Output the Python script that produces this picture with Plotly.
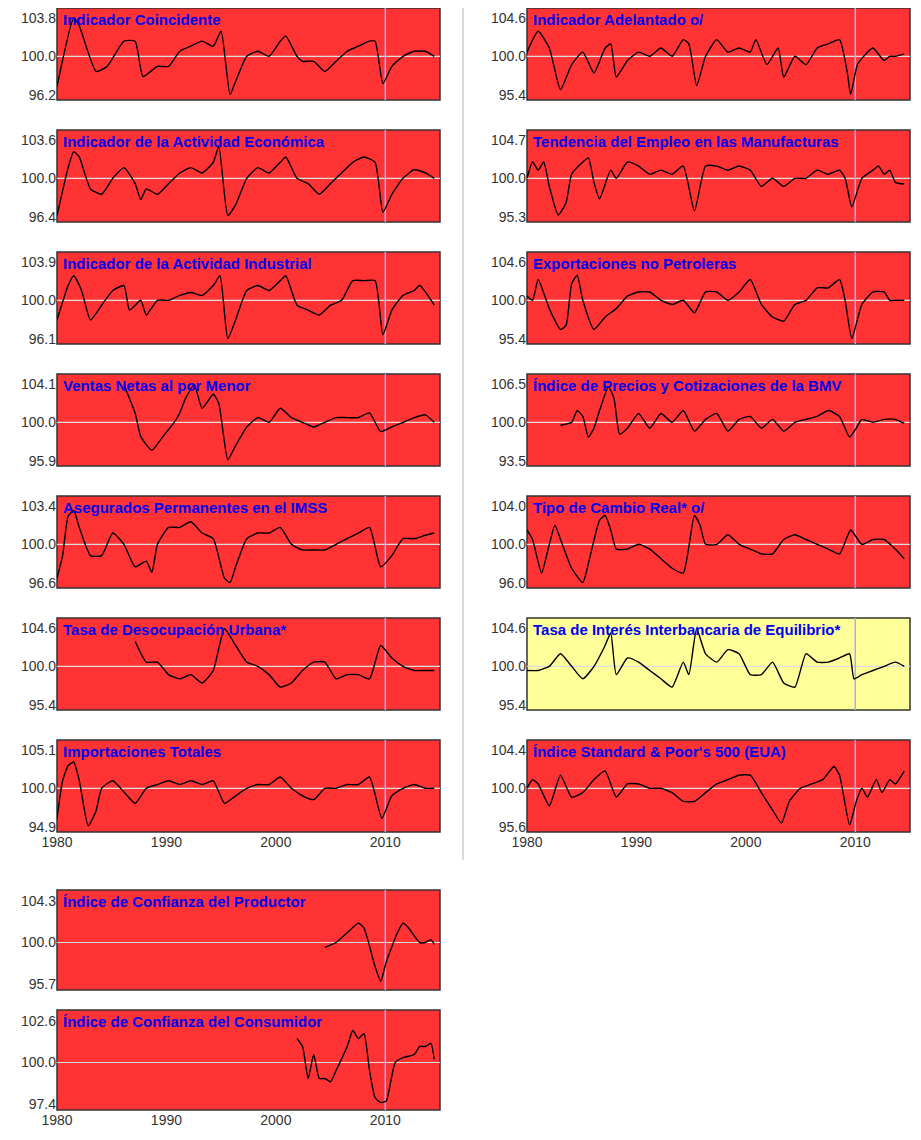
import plotly.graph_objects as go

W, H = 921, 1140
OFF = 8  # browser body margin
XSTRETCH = 1.02  # my year readings came out slightly compressed against the reference axis

# ---- data ----
coinc_x = [1980, 1981.5, 1982, 1983.5, 1984.5, 1986, 1987, 1987.7, 1989, 1990, 1991, 1992, 1993, 1994, 1994.7, 1995.5, 1996, 1997, 1998, 1999, 2000, 2000.5, 2001.5, 2002, 2003, 2004, 2005, 2006, 2007, 2008, 2008.5, 2009.2, 2010, 2011, 2012, 2013, 2013.8]
coinc_y = [97, 103.8, 103, 98.5, 99, 101.5, 101.5, 98, 99, 99, 100.5, 101, 101.5, 101, 102.5, 96.2, 97.5, 100, 100.5, 100, 101.5, 102, 100, 99.5, 99.5, 98.5, 99.5, 100.5, 101, 101.5, 101.5, 97.3, 99, 100, 100.5, 100.5, 100]

adel_x = [1980, 1981, 1982, 1983, 1984, 1985, 1986, 1987, 1987.5, 1988, 1989, 1990, 1991, 1992, 1993, 1994, 1994.5, 1995.2, 1996, 1997, 1998, 1999, 2000, 2000.5, 2001.5, 2002.5, 2003, 2004, 2005, 2006, 2007, 2008, 2008.7, 2009.0, 2009.6, 2010.5, 2011, 2012, 2012.5, 2013, 2013.8]
adel_y = [100.5, 103, 101, 96, 99, 100.5, 98, 101, 101.5, 97.5, 99.5, 100.5, 100, 101, 100, 102, 101.5, 96.5, 100, 102, 100.5, 101, 100.5, 102, 99, 101, 97.5, 100, 99, 101, 101.5, 102, 98, 95.4, 99, 100.5, 101, 99.5, 100, 100, 100.3]

igae_x = [1980, 1981, 1981.5, 1982, 1983, 1984, 1985, 1986, 1987, 1987.5, 1988, 1989, 1990, 1991, 1992, 1993, 1994, 1994.5, 1995.3, 1996, 1997, 1998, 1999, 2000, 2000.5, 2001.5, 2002.5, 2003.5, 2004.5, 2005.5, 2006.5, 2007.5, 2008.5, 2009.2, 2010, 2011, 2012, 2013, 2013.8]
igae_y = [96.5, 101, 102.5, 102, 99, 98.5, 100, 101, 99.5, 98, 99, 98.5, 99.5, 100.5, 101, 100.5, 101.5, 103, 96.5, 97.5, 100, 101, 100.5, 101.5, 102, 100, 99.5, 98.5, 99.5, 100.5, 101.5, 102, 101.5, 96.8, 98.5, 100, 100.8, 100.5, 100]

empleo_x = [1980, 1980.5, 1981, 1981.5, 1982, 1982.8, 1983.5, 1984, 1985, 1985.5, 1986, 1986.5, 1987.5, 1988, 1989, 1990, 1991, 1992, 1993, 1994, 1995, 1996, 1997, 1998, 1999, 2000, 2001, 2002, 2003, 2004, 2005, 2006, 2007, 2008, 2008.5, 2009.1, 2010, 2011, 2011.5, 2012, 2012.5, 2013, 2013.8]
empleo_y = [100, 102, 101, 102, 99, 95.5, 97, 100.5, 102, 102.5, 99.5, 97.5, 101, 100, 102, 101.5, 100.5, 101, 100.5, 101.5, 96, 101.5, 101.5, 101, 101.5, 101, 99, 100, 99, 100, 100, 101, 100.5, 101, 100, 96.5, 100, 101, 101.5, 100.5, 101, 99.5, 99.3]

indus_x = [1980, 1981, 1981.5, 1982.2, 1983, 1984, 1985, 1986, 1986.5, 1987.5, 1988, 1989, 1990, 1991, 1992, 1993, 1994, 1994.6, 1995.3, 1996, 1997, 1998, 1999, 2000, 2000.5, 2001.5, 2002.5, 2003.5, 2004.5, 2005.5, 2006.5, 2007.5, 2008.5, 2009.2, 2010, 2011, 2012, 2012.5, 2013.8]
indus_y = [98, 101.5, 102.5, 101, 98, 99.5, 101, 101.5, 99, 100, 98.5, 100, 100, 100.5, 100.8, 100.5, 101.5, 102.5, 96.1, 98, 101, 101.5, 101, 102, 102.5, 99.5, 99, 98.5, 99.5, 100, 102, 102, 102, 96.5, 99, 100.5, 101, 101.5, 99.5]

export_x = [1980, 1980.5, 1981, 1982, 1983, 1983.5, 1984, 1984.5, 1985, 1986, 1987, 1988, 1989, 1990, 1991, 1992, 1993, 1994, 1995, 1996, 1997, 1998, 1999, 2000, 2001, 2002, 2003, 2004, 2005, 2006, 2007, 2008, 2008.5, 2009.1, 2010, 2011, 2012, 2012.5, 2013, 2013.8]
export_y = [100.5, 100, 102.5, 99, 96.5, 97, 102, 103, 100, 96.5, 98, 99, 100.5, 101, 101, 100, 99.5, 100, 98.5, 101, 101, 100, 101, 102.5, 99.5, 98, 97.5, 99.5, 100, 101.5, 101.5, 102.5, 100, 95.4, 99.5, 101, 101, 100, 100, 100]

ventas_x = [1986, 1987, 1987.5, 1988.5, 1989.5, 1990.5, 1991, 1991.5, 1992.3, 1993, 1994, 1994.5, 1995.3, 1996, 1997, 1998, 1999, 2000, 2001, 2002, 2003, 2004, 2005, 2006, 2007, 2008, 2009, 2010, 2011, 2012, 2013, 2013.8]
ventas_y = [104, 101, 98.5, 97, 98.5, 100, 101, 102.5, 104, 101.5, 103, 102, 96, 97.5, 99.5, 100.5, 100, 101.5, 100.5, 100, 99.5, 100, 100.5, 100.5, 100.5, 101, 99, 99.5, 100, 100.5, 100.8, 100]

bmv_x = [1983, 1984, 1984.5, 1985, 1985.5, 1986, 1986.5, 1987.3, 1987.8, 1988.3, 1989, 1990, 1991, 1992, 1993, 1994, 1995, 1996, 1997, 1998, 1999, 2000, 2001, 2002, 2003, 2004, 2005, 2006, 2007, 2008, 2008.9, 2009.5, 2010, 2011, 2012, 2013, 2013.8]
bmv_y = [99.5, 100, 102, 101, 97.5, 99, 102, 106, 104, 98, 99, 101.5, 99, 101.5, 100, 102, 98.5, 100.5, 101.5, 98.5, 100.5, 101, 99, 100.5, 98.5, 100, 100.5, 101, 102, 101, 97.5, 99, 100.5, 100, 100.5, 100.5, 99.8]

imss_x = [1980, 1980.5, 1981, 1981.5, 1982, 1983, 1984, 1985, 1986, 1987, 1988, 1988.5, 1989, 1990, 1991, 1992, 1993, 1994, 1995, 1995.5, 1996, 1997, 1998, 1999, 2000, 2001, 2002, 2003, 2004, 2005, 2006, 2007, 2008, 2009, 2010, 2011, 2012, 2013, 2013.8]
imss_y = [97, 99, 102.5, 103, 101.5, 99, 99, 101, 100, 98, 98.5, 97.5, 100, 101.5, 101.5, 102, 101, 100.5, 97, 96.6, 98, 100.5, 101, 101, 101.5, 100, 99.5, 99.5, 99.5, 100, 100.5, 101, 101.5, 98, 99, 100.5, 100.5, 100.8, 101]

cambio_x = [1980, 1980.5, 1981.3, 1982, 1982.5, 1983, 1984, 1985, 1985.5, 1986.5, 1987, 1987.5, 1988, 1989, 1990, 1991, 1992, 1993, 1994, 1995, 1995.5, 1996, 1997, 1998, 1999, 2000, 2001, 2002, 2003, 2004, 2005, 2006, 2007, 2008, 2009, 2010, 2011, 2012, 2013, 2013.8]
cambio_y = [101.5, 100.5, 97, 100, 102, 100.5, 97.5, 96, 98, 102.5, 103, 101.5, 99.5, 99.5, 100, 99.5, 98.5, 97.5, 97, 103, 102, 100, 100, 101, 100, 99.5, 99, 99, 100.5, 101, 100.5, 100, 99.5, 99, 101.5, 100, 100.5, 100.5, 99.5, 98.5]

desoc_x = [1987, 1988, 1989, 1990, 1991, 1992, 1993, 1994, 1995, 1996, 1997, 1998, 1999, 2000, 2001, 2002, 2003, 2004, 2005, 2006, 2007, 2008, 2009, 2010, 2011, 2012, 2013, 2013.8]
desoc_y = [103, 100.5, 100.5, 99, 98.5, 99, 98, 99.5, 104.5, 102.5, 100.5, 100, 99, 97.5, 98, 99.5, 100.5, 100.5, 98.5, 99, 99, 98.5, 102.5, 101, 100, 99.5, 99.5, 99.5]

tiie_x = [1980, 1981, 1982, 1983, 1984, 1985, 1986, 1987, 1987.5, 1988, 1989, 1990, 1991, 1992, 1993, 1994, 1994.5, 1995.2, 1996, 1997, 1998, 1999, 2000, 2001, 2002, 2003, 2004, 2005, 2006, 2007, 2008, 2008.9, 2009.3, 2010, 2011, 2012, 2013, 2013.8]
tiie_y = [99.5, 99.5, 100, 101.5, 100, 98.5, 100, 102.5, 104, 99, 101, 100.5, 99.5, 98.5, 97.5, 100.5, 99, 104.5, 101.5, 100.5, 102, 101.5, 99, 99, 100.5, 98, 97.5, 101.5, 100.5, 100.5, 101, 101.5, 98.5, 99, 99.5, 100, 100.5, 100]

import_x = [1980, 1980.5, 1981, 1981.5, 1982, 1982.8, 1983.5, 1984, 1985, 1986, 1987, 1988, 1989, 1990, 1991, 1992, 1993, 1994, 1995, 1996, 1997, 1998, 1999, 2000, 2001, 2002, 2003, 2004, 2005, 2006, 2007, 2008, 2009.1, 2010, 2011, 2012, 2013, 2013.8]
import_y = [96, 101, 103, 103.5, 101, 95, 97, 100, 101, 99.5, 98, 100, 100.5, 101, 100.5, 101, 100.5, 101, 98, 99, 100, 100.5, 100.5, 101.5, 100, 99, 98.5, 100, 100, 100.5, 100.5, 101.5, 96, 99, 100, 100.5, 100, 100]

sp_x = [1980, 1980.5, 1981, 1982, 1983, 1984, 1985, 1986, 1987, 1988, 1989, 1990, 1991, 1992, 1993, 1994, 1995, 1996, 1997, 1998, 1999, 2000, 2001, 2002, 2002.8, 2003.5, 2004.5, 2005.5, 2006.5, 2007.5, 2008, 2008.9, 2009.5, 2010, 2010.5, 2011.3, 2011.8, 2012.5, 2013, 2013.8]
sp_y = [100, 101, 100.5, 98, 101.5, 99, 99.5, 101, 102, 99, 100.5, 100.5, 100, 100, 99.5, 98.5, 98.5, 99.5, 100.5, 101, 101.5, 101.5, 99.5, 97.5, 96, 98.5, 100, 100.5, 101, 102.5, 101.5, 95.8, 98.5, 100, 99, 101, 99.5, 101, 100.5, 102]

prod_x = [2004, 2005, 2006, 2007, 2007.5, 2008.5, 2009, 2009.5, 2010.5, 2011, 2011.5, 2012.5, 2013, 2013.5, 2013.8]
prod_y = [99.5, 100, 101, 102, 101.5, 97.5, 96, 98, 101, 102, 101.5, 100, 100, 100.3, 99.8]

cons_x = [2001.5, 2002, 2002.5, 2003, 2003.5, 2004, 2004.5, 2005, 2006, 2006.5, 2007, 2007.5, 2008, 2008.5, 2009, 2009.5, 2010.3, 2011, 2012, 2012.5, 2013, 2013.5, 2013.8]
cons_y = [101.5, 101, 99, 100.5, 99, 99, 98.8, 99.5, 101, 102, 101.5, 101.8, 99.5, 97.8, 97.5, 97.6, 100, 100.3, 100.5, 101, 101, 101.2, 100.2]

# (title, x, y, tick low, tick high, column, top px, bottom px, colour, x labels)
LEFT, RIGHT = (57, 440), (527, 910)
panels = [
    ("Indicador Coincidente", coinc_x, coinc_y, 96.2, 103.8, LEFT, 8, 100, "red", False),
    ("Indicador de la Actividad Económica", igae_x, igae_y, 96.4, 103.6, LEFT, 130, 222, "red", False),
    ("Indicador de la Actividad Industrial", indus_x, indus_y, 96.1, 103.9, LEFT, 252, 344, "red", False),
    ("Ventas Netas al por Menor", ventas_x, ventas_y, 95.9, 104.1, LEFT, 374, 466, "red", False),
    ("Asegurados Permanentes en el IMSS", imss_x, imss_y, 96.6, 103.4, LEFT, 496, 588, "red", False),
    ("Tasa de Desocupación Urbana*", desoc_x, desoc_y, 95.4, 104.6, LEFT, 618, 710, "red", False),
    ("Importaciones Totales", import_x, import_y, 94.9, 105.1, LEFT, 740, 832, "red", True),
    ("Indicador Adelantado o/", adel_x, adel_y, 95.4, 104.6, RIGHT, 8, 100, "red", False),
    ("Tendencia del Empleo en las Manufacturas", empleo_x, empleo_y, 95.3, 104.7, RIGHT, 130, 222, "red", False),
    ("Exportaciones no Petroleras", export_x, export_y, 95.4, 104.6, RIGHT, 252, 344, "red", False),
    ("Índice de Precios y Cotizaciones de la BMV", bmv_x, bmv_y, 93.5, 106.5, RIGHT, 374, 466, "red", False),
    ("Tipo de Cambio Real* o/", cambio_x, cambio_y, 96.0, 104.0, RIGHT, 496, 588, "red", False),
    ("Tasa de Interés Interbancaria de Equilibrio*", tiie_x, tiie_y, 95.4, 104.6, RIGHT, 618, 710, "yellow", False),
    ("Índice Standard & Poor's 500 (EUA)", sp_x, sp_y, 95.6, 104.4, RIGHT, 740, 832, "red", True),
    ("Índice de Confianza del Productor", prod_x, prod_y, 95.7, 104.3, LEFT, 890, 990, "red", False),
    ("Índice de Confianza del Consumidor", cons_x, cons_y, 97.4, 102.6, LEFT, 1010, 1110, "red", True),
]
BG = {"red": "#ff3333", "yellow": "#ffff99"}
FONT = dict(size=14, color="#333333", family="Liberation Sans")

fig = go.Figure()
shapes, annotations = [], []
for i, (title, xs, ys, lo, hi, col, top, bot, colour, xlab) in enumerate(panels, start=1):
    sfx = "" if i == 1 else str(i)
    xd = [(col[0] - OFF) / W, (col[1] - OFF) / W]
    yd = [1 - (bot - OFF) / H, 1 - (top - OFF) / H]
    span = hi - lo
    xs = [1980 + (x - 1980) * XSTRETCH for x in xs]
    fig.add_trace(go.Scatter(x=xs, y=ys, mode="lines", line=dict(color="black", width=1.4, shape="spline", smoothing=0.5),
                             xaxis="x" + sfx, yaxis="y" + sfx, showlegend=False, hoverinfo="skip"))
    fig.layout["xaxis" + sfx] = dict(domain=xd, range=[1980, 2015], anchor="y" + sfx, showgrid=False, zeroline=False,
                                     showline=False, tickvals=[1980, 1990, 2000, 2010] if xlab else [],
                                     ticks="", tickfont=FONT, automargin=False)
    fig.layout["yaxis" + sfx] = dict(domain=yd, range=[lo - 0.07 * span, hi + 0.13 * span], anchor="x" + sfx,
                                     showgrid=False, zeroline=False, tickvals=[lo, 100, hi],
                                     ticktext=[f"{lo:.1f}", "100.0", f"{hi:.1f}"], ticks="",
                                     tickfont=FONT, showline=False, automargin=False)
    xr, yr = "x" + sfx, "y" + sfx
    shapes.append(dict(type="rect", xref=xr + " domain", yref=yr + " domain", x0=0, x1=1, y0=0, y1=1,
                       fillcolor=BG[colour], line=dict(color="#333333", width=1.5), layer="below"))
    shapes.append(dict(type="line", xref=xr + " domain", yref=yr, x0=0, x1=1, y0=100, y1=100,
                       line=dict(color="#dddddd", width=1.2), layer="below"))
    shapes.append(dict(type="line", xref=xr, yref=yr + " domain", x0=2010, x1=2010, y0=0, y1=1,
                       line=dict(color="#aaaaff", width=1.5), layer="below"))
    annotations.append(dict(text=f"<b>{title}</b>", xref=xr + " domain", yref=yr + " domain", x=0.01, y=0.99,
                            xanchor="left", yanchor="top", showarrow=False,
                            font=dict(size=15, color="#0000ee", family="Liberation Sans")))

shapes.append(dict(type="line", xref="paper", yref="paper", x0=(463 - OFF) / W, x1=(463 - OFF) / W,
                   y0=1 - (860 - OFF) / H, y1=1, line=dict(color="#cccccc", width=1.5)))

fig.update_layout(width=W, height=H, margin=dict(l=0, r=0, t=0, b=0), paper_bgcolor="white",
                  plot_bgcolor="rgba(0,0,0,0)", shapes=shapes, annotations=annotations)
fig.write_html("out.html")
